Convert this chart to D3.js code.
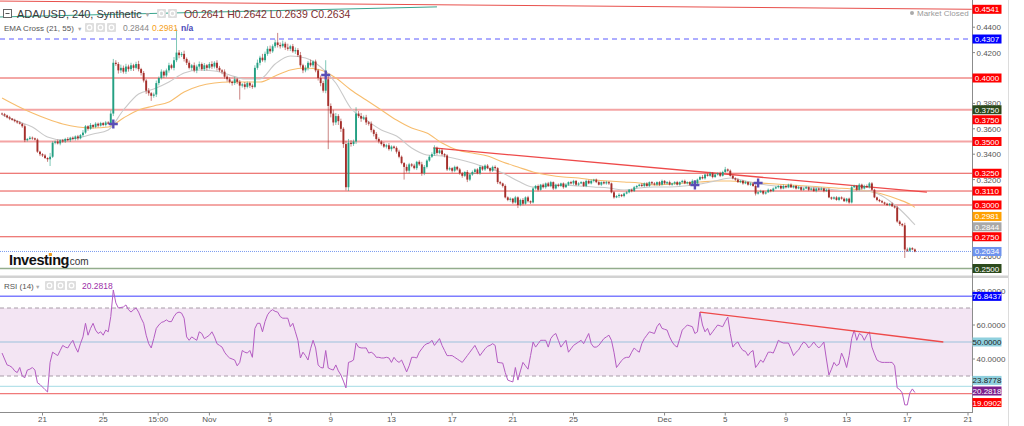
<!DOCTYPE html>
<html>
<head>
<meta charset="utf-8">
<script src="https://d3js.org/d3.v7.min.js"></script>
<style>
  body { margin: 0; background: #fff; }
  svg { display: block; font-family: "Liberation Sans", Arial, sans-serif; }
</style>
</head>
<body>
<div id="chart"></div>
<script>
// 4h candles, ADA/USD, starting 18 Oct 2022 08:00 UTC. prices in 1e-4 units
const start = Date.UTC(2022, 9, 18, 8);
const firstOpen = 3720;
const closes = [
  3715,3705,3690,3680,3670,3660,3650,3640,3620,3510,
  3520,3530,3525,3515,3420,3400,3390,3370,3360,3380,
  3490,3500,3485,3510,3500,3520,3510,3530,3520,3540,
  3525,3550,3570,3620,3600,3630,3615,3640,3625,3645,
  3630,3650,3640,3720,4120,4110,4060,4080,4050,4090,
  4070,4100,4080,4110,4070,4040,3980,3900,3880,3860,
  3870,3960,4000,4050,4020,4060,4100,4080,4140,4200,
  4180,4190,4150,4120,4080,4100,4060,4090,4110,4070,
  4100,4080,4110,4090,4120,4080,4060,4050,4010,3990,
  3970,3960,3990,3970,3940,3950,3930,3960,3940,3930,
  4080,4120,4160,4140,4190,4230,4210,4250,4280,4260,
  4250,4270,4240,4230,4250,4210,4220,4180,4100,4060,
  4080,4120,4100,4130,4060,4000,3960,3900,3990,3780,
  3720,3650,3700,3660,3600,3480,3140,3490,3480,3500,
  3720,3700,3680,3690,3650,3640,3590,3560,3520,3500,
  3480,3460,3470,3440,3460,3450,3420,3380,3330,3300,
  3270,3320,3310,3290,3340,3320,3250,3300,3350,3380,
  3400,3450,3410,3430,3400,3390,3280,3290,3270,3300,
  3280,3250,3230,3260,3200,3240,3260,3280,3250,3300,
  3280,3310,3290,3270,3300,3290,3180,3170,3150,3060,
  3040,3050,3020,3060,3000,3040,3010,3060,3030,3020,
  3130,3150,3120,3160,3140,3170,3150,3180,3130,3160,
  3150,3170,3140,3160,3180,3170,3190,3160,3170,3180,
  3150,3190,3170,3190,3200,3180,3160,3180,3170,3180,
  3170,3100,3060,3070,3080,3070,3090,3100,3120,3110,
  3140,3150,3160,3150,3170,3150,3180,3170,3160,3180,
  3160,3190,3170,3180,3160,3170,3180,3160,3180,3190,
  3170,3180,3160,3190,3170,3200,3220,3210,3240,3230,
  3250,3220,3240,3250,3230,3260,3280,3270,3230,3210,
  3200,3180,3190,3170,3180,3160,3170,3150,3090,3100,
  3110,3090,3100,3120,3110,3130,3140,3150,3130,3150,
  3140,3160,3140,3150,3130,3140,3120,3130,3140,3120,
  3130,3110,3130,3120,3130,3110,3120,3060,3050,3060,
  3040,3060,3050,3030,3050,3020,3140,3150,3120,3160,
  3130,3150,3140,3170,3120,3060,3040,3030,3020,3010,
  3000,3010,2990,2980,2870,2850,2840,2650,2640,2660,
  2650,2634
];
const wickUp = [
  8,10,6,12,5,9,7,10,6,15, 8,12,9,6,10,7,8,12,6,30,
  12,8,15,6,10,9,14,7,10,8, 12,9,20,10,8,15,6,12,9,10,
  8,12,10,25,30,20,15,25,18,22, 15,20,12,18,25,10,15,12,20,10,
  15,20,12,18,10,14,20,12,25,190, 20,15,25,12,18,10,22,15,20,12,
  18,10,15,22,12,20,15,10,18,12, 15,10,20,12,15,10,18,12,10,15,
  20,25,15,30,18,20,25,15,22,75, 20,25,15,30,12,18,20,15,25,12,
  20,15,25,10,15,12,20,18,150,40, 20,30,25,15,20,12,25,30,20,15,
  50,20,25,15,20,12,18,10,15,12, 10,15,12,18,10,8,12,15,10,8,
  20,12,10,15,8,12,20,15,10,12, 15,20,10,12,15,8,10,12,8,10,
  8,12,10,6,15,10,12,8,10,12, 8,10,12,6,10,12,8,10,6,12,
  8,10,6,12,8,10,15,8,12,6, 10,8,12,6,10,8,12,10,6,8,
  10,6,8,12,6,10,8,6,10,8, 6,10,8,12,6,8,10,6,8,10,
  8,6,10,8,12,6,8,10,6,8, 10,8,6,12,8,10,6,8,10,6,
  8,10,6,8,12,6,8,10,6,8, 10,6,8,12,6,8,10,15,8,10,
  12,8,10,6,12,10,20,8,10,6, 8,10,6,8,10,6,8,10,12,8,
  10,6,8,10,6,8,10,6,8,12, 6,8,10,6,8,10,6,8,10,6,
  8,10,6,8,10,6,8,12,6,8, 10,6,8,10,6,8,15,10,8,12,
  8,10,12,11,10,8,6,8,10,6, 8,6,10,8,12,10,8,20,15,10,
  8,8
];
const wickDown = [
  6,10,8,12,7,9,10,6,12,15, 10,8,12,7,10,15,12,8,20,53,
  10,12,8,15,10,12,8,14,10,12, 15,8,12,10,15,8,12,10,14,8,
  10,12,8,15,20,15,25,20,15,18, 20,15,25,12,18,20,15,25,20,40,
  15,20,18,12,20,15,18,12,20,15, 25,15,20,18,12,20,15,22,18,12,
  15,20,12,18,15,22,12,20,15,18, 12,20,15,18,110,15,20,12,18,15,
  10,15,20,12,18,15,20,12,15,20, 18,12,20,15,18,12,20,15,18,22,
  15,20,12,18,15,20,25,15,20,340, 30,25,20,30,25,30,25,30,20,15,
  20,15,25,12,20,15,18,20,12,15, 12,10,15,12,18,10,15,12,10,100,
  15,20,12,10,15,12,20,15,12,10, 10,12,15,10,12,15,12,10,15,12,
  10,12,15,10,20,12,10,15,8,12, 10,12,8,15,10,12,15,10,12,8,
  10,15,12,8,24,10,12,8,10,12, 8,10,12,8,10,12,8,10,12,8,
  10,8,12,6,10,8,12,8,10,6, 8,10,6,8,12,8,6,10,8,10,
  12,8,10,6,15,8,10,6,8,10, 8,10,6,8,10,6,8,10,6,8,
  10,6,8,10,6,8,12,6,8,10, 6,8,10,6,8,10,6,8,10,6,
  8,10,6,8,10,6,8,10,6,8, 10,6,8,10,6,8,10,6,15,8,
  6,10,8,6,10,8,6,10,8,6, 10,8,6,10,8,6,10,8,6,10,
  8,6,10,8,6,10,8,6,10,8, 6,10,8,6,10,10,8,6,10,8,
  10,8,6,10,8,6,10,8,6,10, 8,10,6,8,10,15,10,67,10,8,
  6,6
];
const rsi = [
  43.5,40,36.5,36,35,33,32,35,30,29,
  33.5,34,35,33.5,26,25,23.5,22,20.6,38,
  44,43,42,45,48,47,46.5,49,51,47,
  44,49,53,61,54,58,61,57,55,56,
  54,57,56,65,80.6,73,70,70.3,70.6,71.8,
  69,67.6,69,70,67.6,64,61,54,49,46.5,
  52,58,60,61.5,62,63,62,62,65,67,
  67.6,67,64,53,51,53,52,51,56,55,
  52,53,54,56,53,49,48,47,44,42,
  40.6,40,39.4,36,38,45,44,43.5,45,41,
  58,61,61,56,62,66,68,69,68,67.6,
  65,64,64,64,59,61,56,51,40.6,44,
  42,39.4,46,51,46.5,36.5,35,34.7,45,34.7,
  34,33.5,36.5,33,30.6,27,23,38,38.5,39.4,
  49.4,47,46.5,46.5,46.5,43.5,44,43,41,41,
  40.6,40.6,41,40.6,38,41,39,38,39.4,36,
  32.4,36,41,41,40.6,44,46,48,49,49.4,
  51,48,50,52,48,45,42,42,42,41,
  40,39,38,40,42,44,46,48,45,42,
  44,46,47.5,48,49,48,38,37.8,37.6,32,
  27.6,27,26.5,35,27.6,33,38,36,34,42,
  50,47,49,51,51,51,47,52,54,55,
  51,47,49,51,44,46,48,49,50,51,
  49,52,55,49,47,47,48,50,52,53,
  54,51,44,35,37,39,40.5,41,41,44,
  46.5,45,44,49,52,54,56,55.5,55,59,
  61,58,57.5,57,53,50,48,47,52,57,
  58.5,60,59.5,59,55,56,67.6,60,56,58,
  54,56,58,60,59.5,59,62,64.7,55,47,
  49,50,47,45,44.5,42,44,45,35,37,
  39.4,38,41,44,44,43.5,47,51,50,49.4,
  49.4,49.4,46,42,44,45.3,48,50,49,46.5,
  48,50,48,46.5,48,50,40,30.6,34,38,
  36,37,43.5,40,35,42,52,57,51,55,
  54,51,54,56,47,43,39.4,38.5,38,38,
  38,38,38,36,23,22,20,13,13,20,
  22.4,20.28
];
// EMA values read every 6th candle (plus the last one)
const emaIdx = d3.range(0, 361, 6).concat([361]);
const ema21 = [
  3709,3661,3614,3535,3512,3528,3559,3591,3748,3874,
  3913,3969,4039,4063,4055,4024,3992,3992,4110,4173,
  4157,4087,3961,3760,3669,3591,3543,3449,3394,3386,
  3362,3331,3291,3252,3189,3142,3150,3157,3150,3142,
  3134,3118,3134,3142,3142,3150,3165,3189,3213,3189,
  3165,3150,3142,3142,3134,3118,3110,3110,3071,2984,
  2866,2844
];
const ema55 = [
  3843,3780,3724,3677,3638,3614,3606,3614,3685,3748,
  3780,3811,3890,3937,3961,3969,3969,3969,4016,4063,
  4079,4063,4000,3906,3827,3748,3669,3606,3567,3488,
  3433,3409,3386,3339,3299,3260,3236,3220,3213,3197,
  3189,3181,3173,3157,3165,3173,3181,3189,3189,3181,
  3173,3165,3157,3150,3142,3134,3126,3110,3087,3047,
  2995,2981
];
const crossIdx = [44, 128, 274, 299];
const crossVal = [0.3638, 0.4024, 0.3157, 0.3173];

const redLevels = [0.4000, 0.3250, 0.3110, 0.3000, 0.2750];
const softLevels = [0.3750, 0.3500];
const priceTicks = [0.26, 0.32, 0.34, 0.36, 0.38, 0.40, 0.42, 0.44];
const priceTags = [
  ['0.4541', 0.4541, '#ff0000', '#fff', 0],
  ['0.4307', 0.4307, '#0000ff', '#fff', 0],
  ['0.4000', 0.4000, '#ff0000', '#fff', 0],
  ['0.3750', 0.3750, '#2c4a1c', '#fff', 0],
  ['0.3750', 0.3750, '#ff0000', '#fff', 10],
  ['0.3500', 0.3500, '#ff0000', '#fff', 0],
  ['0.3250', 0.3250, '#ff0000', '#fff', 0],
  ['0.3110', 0.3110, '#ff0000', '#fff', 0],
  ['0.3000', 0.3000, '#ff0000', '#fff', 0],
  ['0.2981', 0.2981, '#ffa000', '#fff', 9],
  ['0.2844', 0.2844, '#a8a8a8', '#fff', 2],
  ['0.2750', 0.2750, '#ff0000', '#fff', 0],
  ['0.2634', 0.2634, '#6f93ee', '#fff', 0],
  ['0.2500', 0.2500, '#2c4a1c', '#fff', 0]
];
const rsiTicks = [40, 60, 80];
const rsiTags = [
  ['76.8437', 76.8437, '#0000ff', '#fff', 0],
  ['50.0000', 50, '#8fd0de', '#222', 0],
  ['23.8778', 23.8778, '#8fd0de', '#222', -6],
  ['20.2818', 20.2818, '#7b1f8e', '#fff', -1.5],
  ['19.0902', 19.0902, '#ff0000', '#fff', 8]
];
const dateTicks = [
  [Date.UTC(2022, 9, 21), '21'], [Date.UTC(2022, 9, 25), '25'],
  [Date.UTC(2022, 9, 28, 15), '15:00'], [Date.UTC(2022, 10, 1), 'Nov'],
  [Date.UTC(2022, 10, 5), '5'], [Date.UTC(2022, 10, 9), '9'],
  [Date.UTC(2022, 10, 13), '13'], [Date.UTC(2022, 10, 17), '17'],
  [Date.UTC(2022, 10, 21), '21'], [Date.UTC(2022, 10, 25), '25'],
  [Date.UTC(2022, 11, 1), 'Dec'], [Date.UTC(2022, 11, 5), '5'],
  [Date.UTC(2022, 11, 9), '9'], [Date.UTC(2022, 11, 13), '13'],
  [Date.UTC(2022, 11, 17), '17'], [Date.UTC(2022, 11, 21), '21']
];
const trendPrice = [[Date.UTC(2022, 10, 15, 18), 0.3449], [Date.UTC(2022, 11, 18, 7), 0.3102]];
const trendRsi = [[Date.UTC(2022, 11, 3, 8), 67.6], [Date.UTC(2022, 11, 19, 9), 50]];
const trendTop = [[Date.UTC(2022, 9, 18, 0), 0.4480], [Date.UTC(2022, 10, 16, 0), 0.4560]];
const trendRed = [[Date.UTC(2022, 9, 18, 0), 0.4606], [Date.UTC(2022, 11, 21, 6), 0.4541]];

const W = 1024, H = 426;
const axisX = 972;
const svg = d3.select('#chart').append('svg').attr('width', W).attr('height', H);

const x = d3.scaleUtc()
  .domain([new Date(Date.UTC(2022, 9, 21)), new Date(Date.UTC(2022, 11, 21))])
  .range([42.5, 968]);
const y = d3.scaleLinear().domain([0.25, 0.40]).range([268.5, 78]);
const yr = d3.scaleLinear().domain([40, 60]).range([359, 325]);
const tAt = i => new Date(start + i * 4 * 3600e3);

const candles = closes.map((c, i) => {
  const o = i ? closes[i - 1] : firstOpen;
  return {
    i, o: o / 1e4, c: c / 1e4,
    h: (Math.max(o, c) + wickUp[i]) / 1e4,
    l: (Math.min(o, c) - wickDown[i]) / 1e4
  };
});

const defs = svg.append('defs');
defs.append('clipPath').attr('id', 'clipMain').append('rect')
  .attr('x', 0).attr('y', 0).attr('width', axisX).attr('height', 274);
defs.append('clipPath').attr('id', 'clipRsi').append('rect')
  .attr('x', 0).attr('y', 279).attr('width', axisX).attr('height', 133);

// ---------- main panel ----------
const main = svg.append('g').attr('clip-path', 'url(#clipMain)');

main.selectAll('.lvl').data(softLevels).enter().append('line')
  .attr('x1', 0).attr('x2', axisX).attr('y1', d => y(d)).attr('y2', d => y(d))
  .attr('stroke', '#f4a4a4').attr('stroke-width', 2);
main.selectAll('.lvl2').data(redLevels).enter().append('line')
  .attr('x1', 0).attr('x2', axisX).attr('y1', d => y(d)).attr('y2', d => y(d))
  .attr('stroke', '#e8504c').attr('stroke-width', 1);
main.append('line').attr('x1', 0).attr('x2', axisX).attr('y1', y(0.4307)).attr('y2', y(0.4307))
  .attr('stroke', '#5a5aff').attr('stroke-dasharray', '5,4');
main.append('line').attr('x1', 0).attr('x2', axisX).attr('y1', y(0.2634)).attr('y2', y(0.2634))
  .attr('stroke', '#7b9cf0').attr('stroke-dasharray', '1,1');
main.append('line').attr('x1', 0).attr('x2', axisX).attr('y1', y(0.25)).attr('y2', y(0.25))
  .attr('stroke', '#93ad8d').attr('stroke-width', 1.5);

function seg(g, pts, sc, color, w) {
  g.append('line')
    .attr('x1', x(new Date(pts[0][0]))).attr('y1', sc(pts[0][1]))
    .attr('x2', x(new Date(pts[1][0]))).attr('y2', sc(pts[1][1]))
    .attr('stroke', color).attr('stroke-width', w);
}
seg(main, trendRed, y, '#e8504c', 1);
seg(main, trendTop, y, '#3aa58e', 1);

const emaLine = d3.line().x(d => x(tAt(d[0]))).y(d => y(d[1] / 1e4)).curve(d3.curveMonotoneX);
main.append('path').attr('d', emaLine(emaIdx.map((k, j) => [k, ema55[j]])))
  .attr('fill', 'none').attr('stroke', '#f7bd6e').attr('stroke-width', 1.1);
main.append('path').attr('d', emaLine(emaIdx.map((k, j) => [k, ema21[j]])))
  .attr('fill', 'none').attr('stroke', '#c9c9c9').attr('stroke-width', 1.1);

seg(main, trendPrice, y, '#ee4a4a', 1.3);

const up = '#24a083', down = '#a52f2b';
const cg = main.append('g');
cg.selectAll('.wick').data(candles).enter().append('line')
  .attr('x1', d => x(tAt(d.i))).attr('x2', d => x(tAt(d.i)))
  .attr('y1', d => y(d.h)).attr('y2', d => y(d.l))
  .attr('stroke', d => d.c >= d.o ? up : down).attr('stroke-opacity', 0.65).attr('stroke-width', 0.9);
cg.selectAll('.body').data(candles).enter().append('rect')
  .attr('x', d => x(tAt(d.i)) - 0.95).attr('width', 1.9)
  .attr('y', d => y(Math.max(d.o, d.c)))
  .attr('height', d => Math.max(0.8, Math.abs(y(d.o) - y(d.c))))
  .attr('fill', d => d.c >= d.o ? up : down);

main.selectAll('.cross').data(crossIdx).enter().append('path')
  .attr('transform', (d, j) => `translate(${x(tAt(d))},${y(crossVal[j])})`)
  .attr('d', 'M-4.5,0H4.5M0,-4.5V4.5')
  .attr('stroke', '#5a4eb5').attr('stroke-width', 2.4);

// ---------- RSI panel ----------
const rp = svg.append('g').attr('clip-path', 'url(#clipRsi)');
rp.append('rect').attr('x', 0).attr('width', axisX)
  .attr('y', yr(70)).attr('height', yr(30) - yr(70)).attr('fill', '#f3e5f3');
rp.selectAll('.band').data([70, 30]).enter().append('line')
  .attr('x1', 0).attr('x2', axisX).attr('y1', d => yr(d)).attr('y2', d => yr(d))
  .attr('stroke', '#a89ca8').attr('stroke-dasharray', '4,3');
rp.append('line').attr('x1', 0).attr('x2', axisX).attr('y1', yr(50)).attr('y2', yr(50))
  .attr('stroke', '#b9cde3').attr('stroke-width', 1.6);
rp.append('line').attr('x1', 0).attr('x2', axisX).attr('y1', yr(76.8437)).attr('y2', yr(76.8437))
  .attr('stroke', '#7d7dff').attr('stroke-width', 1.5);
rp.append('line').attr('x1', 0).attr('x2', axisX).attr('y1', yr(23.8778)).attr('y2', yr(23.8778))
  .attr('stroke', '#b6e2ea').attr('stroke-width', 1.2);
rp.append('line').attr('x1', 0).attr('x2', axisX).attr('y1', yr(19.6)).attr('y2', yr(19.6))
  .attr('stroke', '#f07a7a').attr('stroke-width', 1.3);
rp.append('path')
  .attr('d', d3.line().x((d, i) => x(tAt(i))).y(d => yr(d))(rsi))
  .attr('fill', 'none').attr('stroke', '#b45cc2').attr('stroke-width', 1);
seg(rp, trendRsi, yr, '#ee4a4a', 1.3);

// separator between panels
svg.append('rect').attr('x', 0).attr('y', 275.5).attr('width', 1008).attr('height', 2.5).attr('fill', '#d2d2d2');

// ---------- axes ----------
const ax = svg.append('g').attr('font-size', 8);
ax.append('line').attr('x1', axisX + 0.5).attr('x2', axisX + 0.5).attr('y1', 0).attr('y2', 413).attr('stroke', '#8c8c8c');
ax.append('line').attr('x1', 1008.5).attr('x2', 1008.5).attr('y1', 0).attr('y2', 426).attr('stroke', '#dcdcdc');
ax.append('line').attr('x1', 0).attr('x2', axisX + 1).attr('y1', 412.5).attr('y2', 412.5).attr('stroke', '#8c8c8c');

function plainTicks(vals, sc, fmt) {
  vals.forEach(v => {
    const yy = sc(v);
    ax.append('line').attr('x1', axisX).attr('x2', axisX + 3).attr('y1', yy).attr('y2', yy).attr('stroke', '#888');
    ax.append('text').attr('x', axisX + 4.5).attr('y', yy + 3).attr('fill', '#555').text(fmt(v));
  });
}
function tags(list, sc) {
  list.forEach(([txt, v, bg, fg, shift]) => {
    const yy = sc(v) + shift;
    ax.append('rect').attr('x', axisX + 0.5).attr('y', yy - 4.5).attr('width', 29).attr('height', 9).attr('fill', bg);
    ax.append('text').attr('x', axisX + 15).attr('y', yy + 3).attr('text-anchor', 'middle')
      .attr('fill', fg).text(txt);
  });
}
plainTicks(priceTicks, y, d3.format('.4f'));
tags(priceTags, y);
plainTicks(rsiTicks, yr, d3.format('.4f'));
tags(rsiTags, yr);

dateTicks.forEach(([ms, lab]) => {
  const xx = x(new Date(ms));
  ax.append('line').attr('x1', xx).attr('x2', xx).attr('y1', 412.5).attr('y2', 415.5).attr('stroke', '#888');
  ax.append('text').attr('x', xx).attr('y', 422).attr('text-anchor', 'middle').attr('fill', '#555').text(lab);
});

// ---------- headers ----------
const hd = svg.append('g');
function iconBox(g, bx, by) {
  g.append('rect').attr('x', bx).attr('y', by).attr('width', 9).attr('height', 9).attr('rx', 1).attr('fill', '#dedede');
  g.append('circle').attr('cx', bx + 4.5).attr('cy', by + 4.5).attr('r', 2.3).attr('fill', 'none').attr('stroke', '#fff').attr('stroke-width', 1.2);
}
hd.append('rect').attr('x', 3.5).attr('y', 9.5).attr('width', 8).attr('height', 8).attr('fill', '#fff').attr('stroke', '#666');
hd.append('line').attr('x1', 5.5).attr('x2', 9.5).attr('y1', 13.5).attr('y2', 13.5).attr('stroke', '#555');
hd.append('text').attr('x', 17).attr('y', 17.5).attr('font-size', 11).attr('fill', '#3a3a3a').text('ADA/USD, 240, Synthetic');
hd.append('text').attr('x', 144).attr('y', 17).attr('font-size', 7).attr('fill', '#aaa').text('▼');
iconBox(hd, 157, 9); iconBox(hd, 168, 9);
hd.append('text').attr('x', 184).attr('y', 17.5).attr('font-size', 10.5).attr('fill', '#7d3030')
  .text('O0.2641 H0.2642 L0.2639 C0.2634');

hd.append('text').attr('x', 4).attr('y', 31).attr('font-size', 8).attr('fill', '#555').text('EMA Cross (21, 55)');
hd.append('text').attr('x', 77).attr('y', 30.5).attr('font-size', 5.5).attr('fill', '#aaa').text('▼');
iconBox(hd, 85, 23); iconBox(hd, 96, 23); iconBox(hd, 107, 23);
hd.append('text').attr('x', 123).attr('y', 31).attr('font-size', 8.5).attr('fill', '#888').text('0.2844');
hd.append('text').attr('x', 152).attr('y', 31).attr('font-size', 8.5).attr('fill', '#f5a020').text('0.2981');
hd.append('text').attr('x', 181).attr('y', 31).attr('font-size', 8.5).attr('font-weight', 'bold').attr('fill', '#4a4ab8').text('n/a');

hd.append('circle').attr('cx', 912).attr('cy', 13).attr('r', 2).attr('fill', '#aaa');
hd.append('text').attr('x', 917).attr('y', 16).attr('font-size', 8).attr('fill', '#999').text('Market Closed');

hd.append('text').attr('x', 4).attr('y', 289).attr('font-size', 8).attr('fill', '#555').text('RSI (14)');
hd.append('text').attr('x', 35).attr('y', 288.5).attr('font-size', 5.5).attr('fill', '#aaa').text('▼');
iconBox(hd, 45, 281); iconBox(hd, 56, 281); iconBox(hd, 67, 281);
hd.append('text').attr('x', 82).attr('y', 289).attr('font-size', 8.5).attr('fill', '#9c2ea8').text('20.2818');

// logo
hd.append('text').attr('x', 9).attr('y', 265).attr('font-size', 14.5).attr('font-weight', 'bold')
  .attr('letter-spacing', -0.4).attr('fill', '#111').text('Investing');
hd.append('text').attr('x', 67).attr('y', 265).attr('font-size', 10).attr('fill', '#333').text('.com');
hd.append('rect').attr('x', 48.8).attr('y', 253).attr('width', 3).attr('height', 3).attr('fill', '#f6a01a');
</script>
</body>
</html>
